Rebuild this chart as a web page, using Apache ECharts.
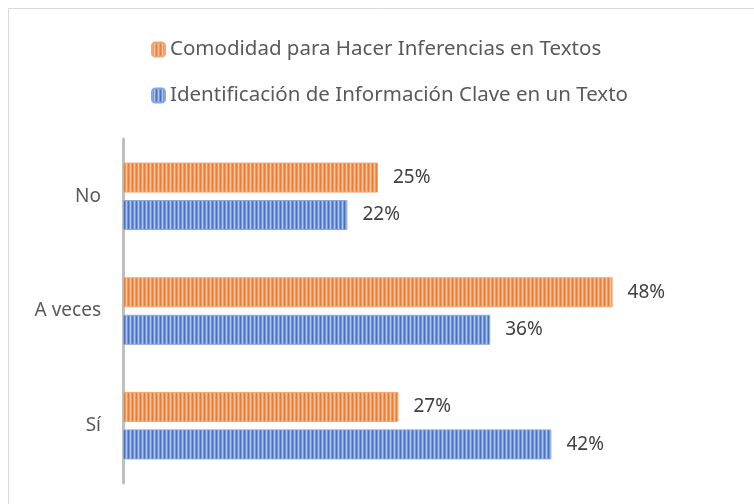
<!DOCTYPE html>
<html>
<head>
<meta charset="utf-8">
<script src="https://cdn.jsdelivr.net/npm/echarts@6/dist/echarts.min.js"></script>
<style>
  html, body { margin: 0; padding: 0; background: #fff; }
  #chart { width: 754px; height: 504px; }
</style>
</head>
<body>
<div id="chart"></div>
<script>
// datos del gráfico
const categorias = ['Sí', 'A veces', 'No'];
const nombreComodidad = 'Comodidad para Hacer Inferencias en Textos';
const nombreIdentificacion = 'Identificación de Información Clave en un Texto';
const valoresComodidad = [27, 48, 25];
const valoresIdentificacion = [42, 36, 22];

// relleno rayado vertical tipo Excel
const rayas = (oscuro, medio, claro) => {
    const c = document.createElement('canvas');
    c.width = 4;
    c.height = 4;
    const ctx = c.getContext('2d');
    [oscuro, medio, claro, medio].forEach((col, i) => {
        ctx.fillStyle = col;
        ctx.fillRect(i, 0, 1, 4);
    });
    return { image: c, repeat: 'repeat' };
};

const chart = echarts.init(document.getElementById('chart'));
const fuente = 'Noto Sans';

const etiqueta = {
    show: true,
    position: 'right',
    distance: 15,
    formatter: '{c}%',
    fontFamily: fuente,
    fontSize: 19,
    color: '#404040'
};

const option = {
    animation: false,
    backgroundColor: '#fff',
    graphic: [{
        type: 'rect',
        shape: { x: 8.5, y: 8.5, width: 800, height: 600 },
        style: { fill: 'none', stroke: '#d9d9d9', lineWidth: 1 },
        silent: true
    }],
    legend: {
        orient: 'vertical',
        left: 146,
        top: 34,
        itemWidth: 13,
        itemHeight: 14,
        itemGap: 25,
        data: [nombreComodidad, nombreIdentificacion],
        textStyle: { fontFamily: fuente, fontSize: 20.5, color: '#595959', lineHeight: 21 }
    },
    grid: { left: 123, right: 19, top: 139, bottom: 21, containLabel: false },
    xAxis: {
        type: 'value',
        min: 0,
        max: 60,
        show: false
    },
    yAxis: {
        type: 'category',
        data: categorias,
        axisLine: { show: true, lineStyle: { color: '#bfbfbf', width: 3 } },
        axisTick: { show: false },
        axisLabel: { fontFamily: fuente, fontSize: 19, color: '#595959', margin: 22 }
    },
    series: [
        {
            name: nombreComodidad,
            type: 'bar',
            data: valoresComodidad,
            barWidth: 30,
            barGap: '25%',
            itemStyle: { color: rayas('#ed7d31', '#f29a5e', '#f8c6a3'), borderColor: '#f3a670', borderWidth: 1 },
            label: etiqueta
        },
        {
            name: nombreIdentificacion,
            type: 'bar',
            data: valoresIdentificacion,
            barWidth: 30,
            barGap: '25%',
            itemStyle: { color: rayas('#4472c4', '#7796d3', '#b4c7ea'), borderColor: '#8aa6dc', borderWidth: 1 },
            label: etiqueta
        }
    ]
};

chart.setOption(option);
</script>
</body>
</html>
